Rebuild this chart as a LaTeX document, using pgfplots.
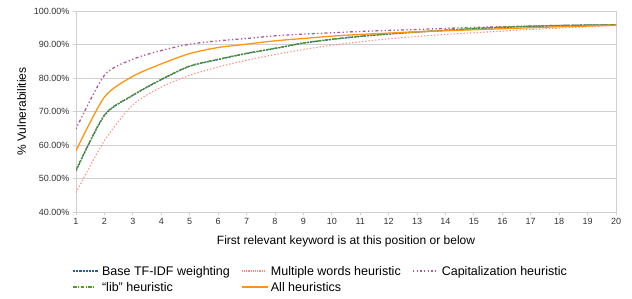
\documentclass[border=0pt]{standalone}
\usepackage{pgfplots}
\pgfplotsset{compat=1.18}
\usepackage{fontspec}
\setmainfont{Liberation Sans}
\definecolor{cblue}{HTML}{2A6099}
\definecolor{cgreen}{HTML}{579D1C}
\definecolor{cred}{HTML}{FF8C7A}
\definecolor{cpurple}{HTML}{B0569A}
\definecolor{corange}{HTML}{FF950E}
\definecolor{cgrid}{HTML}{D0D0D0}
\definecolor{ctick}{HTML}{333333}
\newcommand\legline[2]{\textcolor{#1}{\raisebox{0.3em}{\hbox to 26bp{\leaders\hbox{#2}\hfill}}}\hspace{3bp}}
\begin{document}
\begin{tikzpicture}
\useasboundingbox (0,0) rectangle (632bp,299bp);
\begin{axis}[
  at={(76bp,87bp)}, anchor=south west,
  scale only axis, width=540bp, height=201bp,
  xmin=1, xmax=20, ymin=40, ymax=100,
  xtick={1,...,20}, ytick={40,50,...,100},
  yticklabel={\pgfmathprintnumber[fixed,fixed zerofill,precision=2]{\tick}\%},
  /pgf/number format/assume math mode=true,
  tick label style={font=\fontsize{9bp}{10bp}\selectfont, text=ctick},
  ymajorgrids, grid style={cgrid, line width=0.8pt},
  axis line style={cgrid, line width=0.8pt},
  tick style={cgrid, line width=0.8pt},
  tick align=outside, major tick length=3bp,
  xtick pos=bottom, ytick pos=left,
  xlabel={First relevant keyword is at this position or below},
  ylabel={\% Vulnerabilities},
  label style={font=\fontsize{12bp}{14bp}\selectfont},
  xlabel style={yshift=-4bp},
  ylabel style={yshift=1bp},
  legend columns=3,
  legend style={at={(-0.028,-0.26)}, anchor=north west, draw=none, inner sep=0pt,
    font=\fontsize{12.5bp}{15bp}\selectfont,
    nodes={inner xsep=0pt},
    /tikz/every odd column/.append style={column sep=12bp},
    row sep=1.5bp,
    legend cell align=left},
  legend image code/.code={},
  every axis plot/.append style={smooth, tension=0.45, line width=1.3pt},
]
\addplot[color=cblue, dash pattern=on 2.2pt off 1pt] coordinates {
(1,52.3)(2,68.8)(3,74.8)(4,79.5)(5,83.5)(6,85.5)(7,87.3)(8,88.8)(9,90.4)(10,91.5)
(11,92.4)(12,93.1)(13,93.7)(14,94.2)(15,94.7)(16,95.1)(17,95.4)(18,95.6)(19,95.8)(20,95.9)};
\addlegendentry{\legline{cblue}{\rule{2.1bp}{1.3bp}\hspace{1.1bp}}Base TF-IDF weighting}
\addplot[color=cred, dotted, line width=1.1pt] coordinates {
(1,45.8)(2,61.3)(3,72.0)(4,77.3)(5,80.8)(6,83.3)(7,85.3)(8,87.0)(9,88.5)(10,89.8)
(11,90.8)(12,91.7)(13,92.4)(14,93.0)(15,93.5)(16,94.0)(17,94.5)(18,94.9)(19,95.3)(20,95.7)};
\addlegendentry{\legline{cred}{\rule{1.1bp}{1.3bp}\hspace{1.1bp}}Multiple words heuristic}
\addplot[color=cpurple, dash pattern=on 1.3pt off 2.4pt on 1.3pt off 2.4pt on 3pt off 2.4pt] coordinates {
(1,64.8)(2,80.8)(3,85.6)(4,88.2)(5,90.1)(6,91.1)(7,91.8)(8,92.6)(9,93.1)(10,93.5)
(11,93.9)(12,94.2)(13,94.5)(14,94.8)(15,95.1)(16,95.3)(17,95.5)(18,95.7)(19,95.8)(20,95.9)};
\addlegendentry{\legline{cpurple}{\rule{1.3bp}{1.3bp}\hspace{2.4bp}}Capitalization heuristic}
\addplot[color=cgreen, dash pattern=on 3.5pt off 1.5pt on 1pt off 1.5pt] coordinates {
(1,52.5)(2,69.0)(3,74.9)(4,79.6)(5,83.6)(6,85.6)(7,87.4)(8,88.9)(9,90.5)(10,91.6)
(11,92.5)(12,93.2)(13,93.8)(14,94.3)(15,94.8)(16,95.2)(17,95.5)(18,95.7)(19,95.8)(20,95.9)};
\addlegendentry{\legline{cgreen}{\rule{3.5bp}{1.3bp}\hspace{1.5bp}\rule{1bp}{1.3bp}\hspace{1.5bp}}``lib'' heuristic}
\addplot[color=corange, solid] coordinates {
(1,58.3)(2,74.3)(3,80.5)(4,84.2)(5,87.3)(6,89.1)(7,90.1)(8,91.1)(9,91.8)(10,92.5)
(11,93.0)(12,93.4)(13,93.8)(14,94.1)(15,94.4)(16,94.7)(17,95.0)(18,95.3)(19,95.5)(20,95.8)};
\addlegendentry{\legline{corange}{\rule{2bp}{1.4bp}}All heuristics}
\end{axis}
\end{tikzpicture}
\end{document}
